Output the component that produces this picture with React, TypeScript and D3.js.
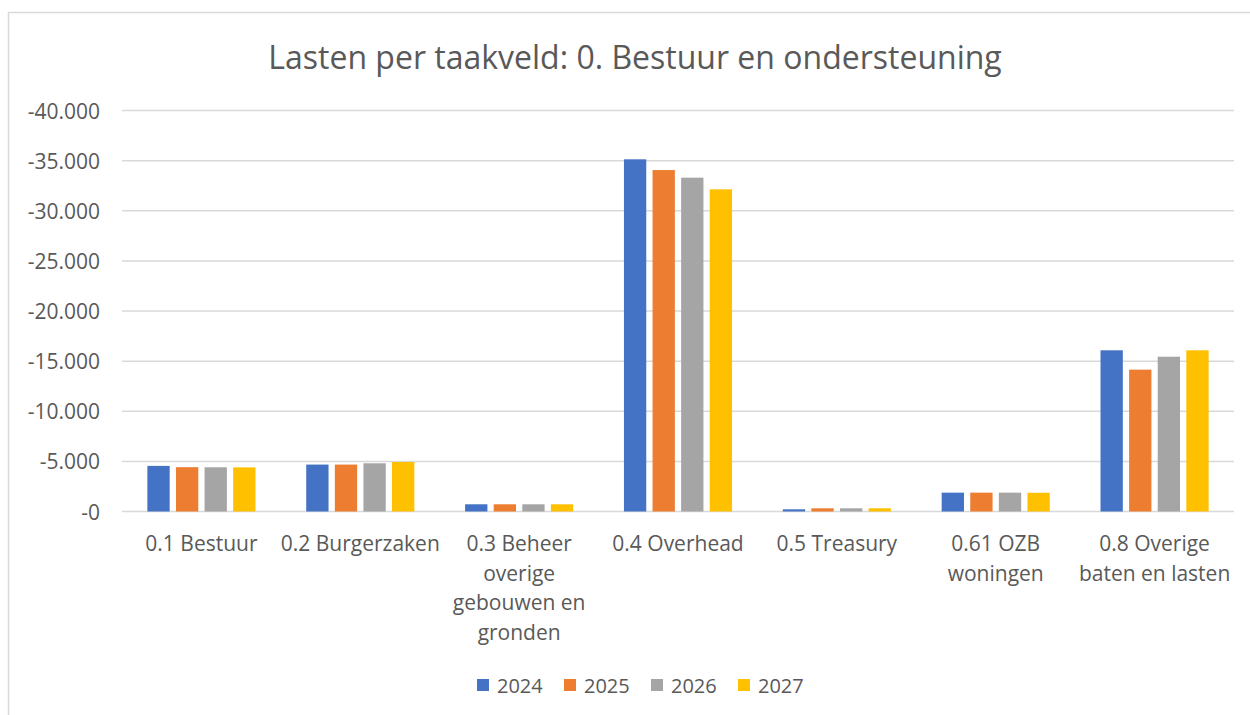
import React from 'react';
import * as d3 from 'd3';

const categories = [
  ['0.1 Bestuur'],
  ['0.2 Burgerzaken'],
  ['0.3 Beheer', 'overige', 'gebouwen en', 'gronden'],
  ['0.4 Overhead'],
  ['0.5 Treasury'],
  ['0.61 OZB', 'woningen'],
  ['0.8 Overige', 'baten en lasten'],
];
const seriesNames = ['2024', '2025', '2026', '2027'];
const seriesColors = ['#4472C4', '#ED7D31', '#A5A5A5', '#FFC000'];
const values2024 = [-4550, -4680, -720, -35130, -220, -1880, -16080];
const values2025 = [-4420, -4680, -720, -34060, -320, -1880, -14150];
const values2026 = [-4410, -4810, -720, -33300, -320, -1880, -15440];
const values2027 = [-4400, -4940, -720, -32140, -320, -1870, -16080];
const seriesValues = [values2024, values2025, values2026, values2027];
const yTicks = [0, -5000, -10000, -15000, -20000, -25000, -30000, -35000, -40000];
const yTickLabels = ['-0', '-5.000', '-10.000', '-15.000', '-20.000', '-25.000', '-30.000', '-35.000', '-40.000'];
const title = 'Lasten per taakveld: 0. Bestuur en ondersteuning';

const font = '"Open Sans", "Noto Sans", sans-serif';
const textColor = '#595959';

export default function App() {
  const width = 1250, height = 715;
  const plot = { left: 122, right: 1234, top: 110.5, bottom: 511.5 };

  const x = d3.scaleBand<number>()
    .domain(d3.range(categories.length))
    .range([plot.left, plot.right])
    .padding(0);
  const step = 28.6;
  const xInner = d3.scaleBand<number>()
    .domain(d3.range(seriesNames.length))
    .range([-2 * step, 2 * step])
    .paddingInner(0.22)
    .paddingOuter(0.11);
  const y = d3.scaleLinear()
    .domain([0, -40000])
    .range([plot.bottom, plot.top]);

  const legendX = d3.scaleBand<number>()
    .domain(d3.range(seriesNames.length))
    .range([477, 477 + 87 * 4]);

  return (
    <svg width={width} height={height} style={{ position: 'absolute', left: 0, top: 0 }} fontFamily={font}>
      <rect x={0} y={0} width={width} height={height} fill="#fff" />
      <rect x={8.5} y={12.5} width={1260} height={720} fill="#fff" stroke="#D9D9D9" strokeWidth={1.5} />

      <text x={635} y={56} textAnchor="middle" dominantBaseline="central" fontSize={32} fill={textColor}>
        {title}
      </text>

      {/* gridlines and y labels */}
      {yTicks.map((t, i) => (
        <g key={t}>
          <line x1={plot.left} x2={plot.right} y1={y(t)} y2={y(t)} stroke="#D9D9D9" strokeWidth={1.5} />
          <text x={100} y={y(t)} textAnchor="end" dominantBaseline="central" fontSize={21} fill={textColor}>
            {yTickLabels[i]}
          </text>
        </g>
      ))}

      {/* bars */}
      {seriesValues.map((vals, s) => (
        <g key={seriesNames[s]} fill={seriesColors[s]}>
          {vals.map((v, c) => {
            const cx = x(c)! + x.bandwidth() / 2 + xInner(s)!;
            return (
              <rect key={c} x={cx} y={y(v)} width={xInner.bandwidth()} height={y(0) - y(v)} />
            );
          })}
        </g>
      ))}

      {/* category labels */}
      {categories.map((lines, c) => (
        <text key={c} x={x(c)! + x.bandwidth() / 2} textAnchor="middle" fontSize={21} fill={textColor}>
          {lines.map((ln, k) => (
            <tspan key={k} x={x(c)! + x.bandwidth() / 2} y={543 + k * 29.5} dominantBaseline="central">{ln}</tspan>
          ))}
        </text>
      ))}

      {/* legend */}
      {seriesNames.map((name, s) => (
        <g key={name} transform={`translate(${legendX(s)},685)`}>
          <rect x={0} y={-6} width={12} height={12} fill={seriesColors[s]} />
          <text x={20} y={0} dominantBaseline="central" fontSize={20} fill={textColor}>{name}</text>
        </g>
      ))}
    </svg>
  );
}
